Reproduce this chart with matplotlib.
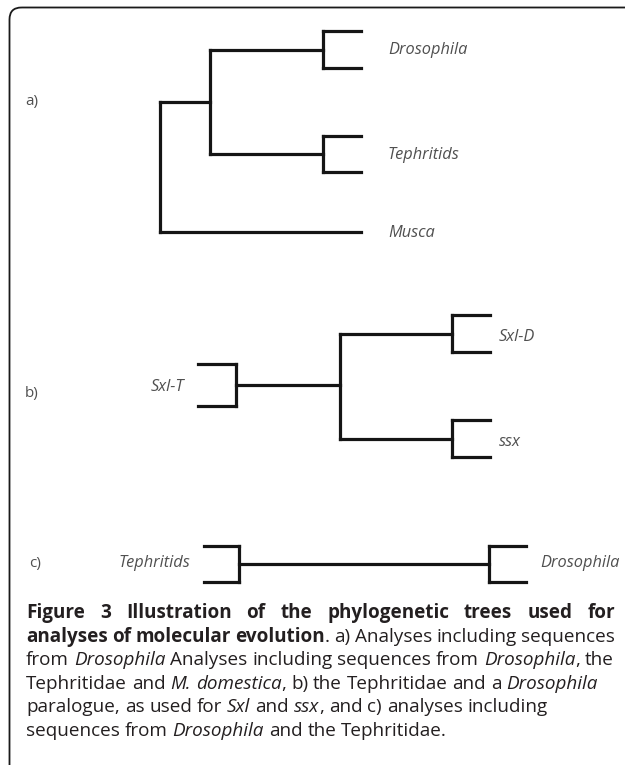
import matplotlib
matplotlib.use('Agg')
import matplotlib.pyplot as plt
from matplotlib.patches import FancyBboxPatch

W, H = 625, 765
FONT = 'Open Sans'
LINE_COLOR = '#151515'
LABEL_COLOR = '#505050'
TEXT_COLOR = '#231f20'

# --- tree topologies (x = node depth in px, leaf = (x, row)) ---
# a) ((Drosophila, Tephritids), Musca)
tree_a = (160, [(210, [(323, [(361, 31), (361, 68)]),
                       (323, [(361, 136), (361, 172)])]),
                (361, 232)])
# b) Sxl-T outgroup vs (Sxl-D, ssx)
tree_b = (340, [(452, [(490, 315), (490, 352)]),
                (452, [(490, 420), (490, 457)]),
                (236, [(198, 364), (198, 406)])])
# c) Tephritids vs Drosophila
tree_c = (489, [(526, 546), (526, 582),
                (239, [(204, 546), (204, 582)])])

tip_labels = ['Drosophila', 'Tephritids', 'Musca', 'Sxl-D', 'ssx', 'Sxl-T', 'Tephritids', 'Drosophila']
tip_label_x = [388, 388, 388, 499, 499, 184, 190, 540]
tip_label_y = [50, 155, 233, 337, 442, 387, 563, 563]
tip_label_ha = ['left', 'left', 'left', 'left', 'left', 'right', 'right', 'left']

panel_tags = ['a)', 'b)', 'c)']
panel_tag_x = [25, 25, 29]
panel_tag_y = [101, 393, 564]

caption_lines = [
    [("Figure 3 Illustration of the phylogenetic trees used for", "b")],
    [("analyses of molecular evolution", "b"), (". a) Analyses including sequences", "r")],
    [("from ", "r"), ("Drosophila", "i"), (" Analyses including sequences from ", "r"),
     ("Drosophila", "i"), (", the", "r")],
    [("Tephritidae and ", "r"), ("M. domestica", "i"), (", b) the Tephritidae and a ", "r"),
     ("Drosophila", "i")],
    [("paralogue, as used for ", "r"), ("Sxl", "i"), (" and ", "r"), ("ssx", "i"),
     (", and c) analyses including", "r")],
    [("sequences from ", "r"), ("Drosophila", "i"), (" and the Tephritidae.", "r")],
]
caption_justify = [True, True, False, False, False, False]


def draw_node(ax, node):
    """Draw a rectangular cladogram node, return the row of the node."""
    x, kids = node
    if not isinstance(kids, list):
        return kids
    rows = []
    for kid in kids:
        ky = draw_node(ax, kid)
        ax.plot([x, kid[0]], [ky, ky], color=LINE_COLOR, lw=2.3, solid_capstyle='projecting')
        rows.append(ky)
    ax.plot([x, x], [min(rows), max(rows)], color=LINE_COLOR, lw=2.3, solid_capstyle='projecting')
    return sum(rows) / len(rows)


STYLES = {
    'b': dict(fontweight='bold', fontstyle='normal'),
    'r': dict(fontweight='normal', fontstyle='normal'),
    'i': dict(fontweight='normal', fontstyle='italic'),
}


def draw_rich_line(ax, renderer, x0, y, segs, width=None, size=13.6):
    # split into words, a word may have pieces of different style
    words = []
    new_word = True
    for text, style in segs:
        parts = text.split(' ')
        for j, p in enumerate(parts):
            if j > 0:
                new_word = True
            if p == '':
                continue
            if new_word or not words:
                words.append([(p, style)])
            else:
                words[-1].append((p, style))
            new_word = False

    def measure(s, style):
        t = ax.text(0, 0, s, fontsize=size, family=FONT, **STYLES[style])
        w = t.get_window_extent(renderer).width
        t.remove()
        return w

    space = measure('n n', 'r') - measure('nn', 'r')
    widths = [[measure(p, st) for p, st in wd] for wd in words]
    total = sum(sum(w) for w in widths)
    gap = space
    if width is not None and len(words) > 1:
        gap = (width - total) / (len(words) - 1)

    x = x0
    for wd, ws in zip(words, widths):
        for (p, st), w in zip(wd, ws):
            ax.text(x, y, p, fontsize=size, family=FONT, color=TEXT_COLOR,
                    va='baseline', ha='left', **STYLES[st])
            x += w
        x += gap


fig = plt.figure(figsize=(W / 100, H / 100), dpi=100)
ax = fig.add_axes([0, 0, 1, 1])
ax.set_xlim(0, W)
ax.set_ylim(H, 0)
ax.axis('off')

# frame with rounded top-left corner, running off the page
frame = FancyBboxPatch((9.5, 7.5), 700, 850, boxstyle='round,pad=0,rounding_size=12',
                       fill=False, edgecolor='#1a1a1a', lw=1.3, clip_on=False)
ax.add_patch(frame)

for tree in (tree_a, tree_b, tree_c):
    draw_node(ax, tree)

for lab, lx, ly, ha in zip(tip_labels, tip_label_x, tip_label_y, tip_label_ha):
    ax.text(lx, ly, lab, fontsize=11.8, family=FONT, fontstyle='italic',
            color=LABEL_COLOR, ha=ha, va='center')

for tag, tx, ty in zip(panel_tags, panel_tag_x, panel_tag_y):
    ax.text(tx, ty, tag, fontsize=11, family=FONT, color=LABEL_COLOR,
            ha='left', va='center')

renderer = fig.canvas.get_renderer()
y = 618
for segs, just in zip(caption_lines, caption_justify):
    draw_rich_line(ax, renderer, 26, y, segs, width=589 if just else None)
    y += 23.6

fig.savefig('out.png', dpi=100)
